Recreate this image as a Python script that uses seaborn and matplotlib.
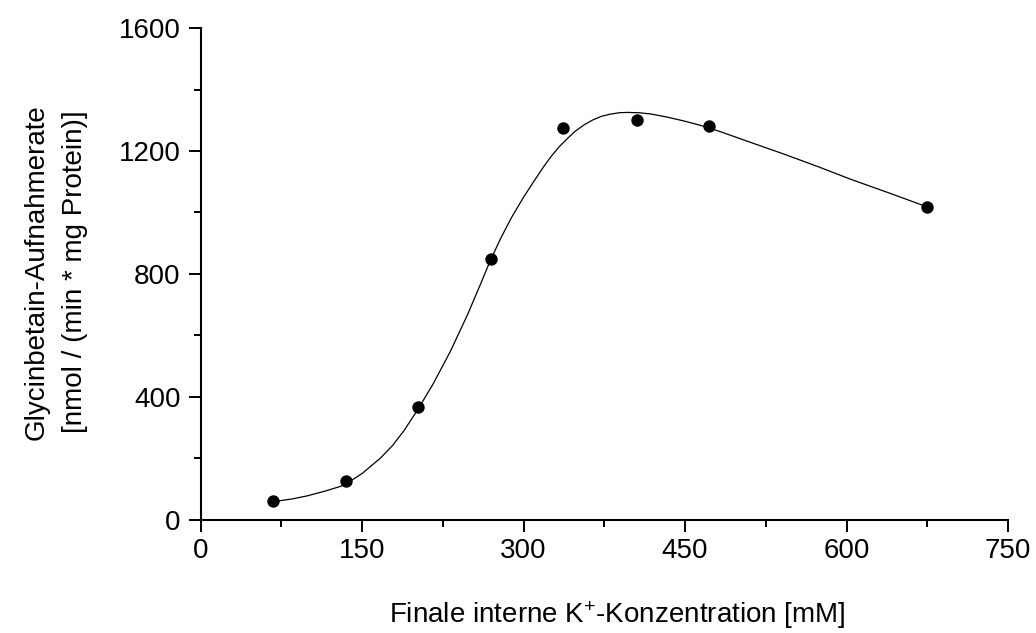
import matplotlib
matplotlib.use("Agg")
import matplotlib.pyplot as plt
from matplotlib.ticker import MultipleLocator
import seaborn as sns
import pandas as pd

# Measured data points
k_conc = [67, 135, 202, 270, 337, 405, 472, 675]
uptake = [61, 125, 365, 848, 1275, 1301, 1282, 1017]

# Fitted curve
curve_x = [67, 85, 99, 115, 130, 135, 150, 167, 178, 189, 202, 216, 232, 248,
           260, 269, 279, 289, 300, 310, 318, 325, 333, 341, 348, 356, 364, 372,
           380, 389, 396, 407, 418, 433, 449, 461, 472, 483, 512, 542, 573, 604, 640, 675]
curve_y = [58, 67, 77, 92, 108, 116, 150, 200, 240, 290, 360, 442, 548, 668,
           767, 843, 918, 985, 1050, 1104, 1146, 1180, 1214, 1242, 1265, 1285, 1301, 1313,
           1320, 1325, 1326, 1325, 1321, 1311, 1298, 1287, 1276, 1263, 1227, 1190, 1150, 1108, 1063, 1018]

xticks = [0, 150, 300, 450, 600, 750]
yticks = [0, 400, 800, 1200, 1600]

sns.set_theme(style="ticks")
plt.rcParams["font.family"] = ["Liberation Sans", "DejaVu Sans"]
plt.rcParams["mathtext.fontset"] = "custom"
plt.rcParams["mathtext.rm"] = "Liberation Sans"
plt.rcParams["mathtext.it"] = "Liberation Sans:italic"

fig = plt.figure(figsize=(10.36, 6.33), dpi=100)
ax = fig.add_axes([0.1937, 0.1793, 0.7793, 0.7760])

pts = pd.DataFrame({"x": k_conc, "y": uptake})
crv = pd.DataFrame({"x": curve_x, "y": curve_y})

sns.lineplot(data=crv, x="x", y="y", ax=ax, color="black", linewidth=0.9, sort=False)
sns.scatterplot(data=pts, x="x", y="y", ax=ax, color="black", s=80, edgecolor="black",
                linewidth=0, zorder=3)

ax.set_xlim(0, 750)
ax.set_ylim(0, 1600)
ax.set_xticks(xticks)
ax.set_yticks(yticks)
ax.set_xticklabels([str(v) for v in xticks])
ax.set_yticklabels([str(v) for v in yticks])
ax.xaxis.set_minor_locator(MultipleLocator(75))
ax.yaxis.set_minor_locator(MultipleLocator(200))

for s in ["top", "right"]:
    ax.spines[s].set_visible(False)
for s in ["left", "bottom"]:
    ax.spines[s].set_linewidth(1.5)
    ax.spines[s].set_color("black")

ax.tick_params(axis="both", which="major", direction="out", length=8.6, width=1.4,
               color="black", labelsize=20, labelcolor="black")
ax.tick_params(axis="both", which="minor", direction="out", length=5, width=1.4,
               color="black")
ax.tick_params(axis="x", which="major", pad=5)
ax.tick_params(axis="y", which="major", pad=6)

ax.set_xlabel("Finale interne K$^{+}$-Konzentration [mM]", fontsize=20, color="black")
ax.set_ylabel("Glycinbetain-Aufnahmerate\n[nmol / (min * mg Protein)]", fontsize=20,
              color="black", linespacing=1.6)
ax.xaxis.set_label_coords(0.516, -0.162)
ax.yaxis.set_label_coords(-0.1396, 0.504)

ax.set_facecolor("white")
fig.patch.set_facecolor("white")
fig.savefig("out.png", dpi=100)
